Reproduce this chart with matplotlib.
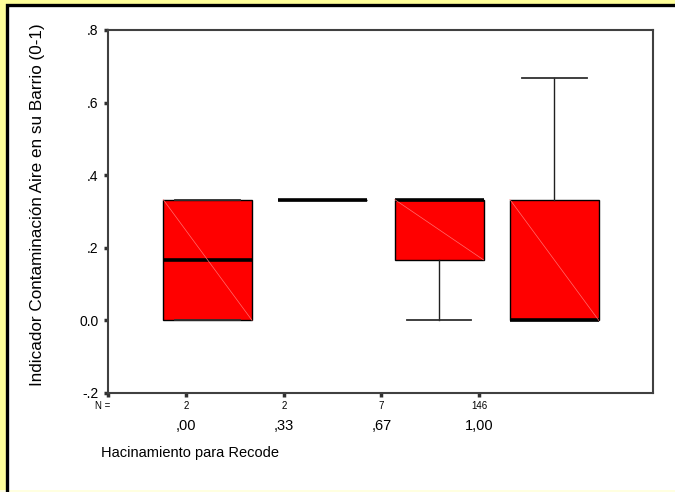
import matplotlib.pyplot as plt
from matplotlib.patches import Rectangle
from matplotlib.lines import Line2D
from matplotlib.transforms import blended_transform_factory

plt.rcParams['font.family'] = ['Liberation Sans', 'DejaVu Sans']

# categories and counts
categories = [',00', ',33', ',67', '1,00']
n_counts = ['2', '2', '7', '146']
tick_pos = [1, 2, 3, 4]
# SPSS puts the boxes a bit off the ticks
box_pos = [1.22, 2.40, 3.59, 4.77]

# box stats
q1 = [0.0, 0.333, 0.1667, 0.0]
med = [0.1667, 0.333, 0.333, 0.0]
q3 = [0.333, 0.333, 0.333, 0.333]
whis_lo = [0.0, 0.333, 0.0, 0.0]
whis_hi = [0.333, 0.333, 0.333, 0.6667]

yticks = [-0.2, 0.0, 0.2, 0.4, 0.6, 0.8]
ytick_labels = ['-.2', '0.0', '.2', '.4', '.6', '.8']

fig = plt.figure(figsize=(6.75, 4.92), dpi=100)
fig.patch.set_facecolor('#ffff99')
# white panel, frame only visible on top and left (picture is cut)
fig.add_artist(Rectangle((7 / 675, 2 / 492), 1.0, 485 / 492, transform=fig.transFigure,
                         facecolor='white', edgecolor='none', zorder=0))
fig.add_artist(Line2D([7 / 675, 7 / 675, 1.0], [2 / 492, 487 / 492, 487 / 492],
                      transform=fig.transFigure, color='black', linewidth=2.4,
                      solid_joinstyle='miter', zorder=1))
fig.add_artist(Rectangle((0, 0), 1.0, 2 / 492, transform=fig.transFigure,
                         facecolor='#ffffe0', edgecolor='none', zorder=0))

ax = fig.add_axes([108 / 675, 99 / 492, 545 / 675, 363 / 492])
ax.set_facecolor('white')

stats = []
for i in range(len(categories)):
    stats.append(dict(med=med[i], q1=q1[i], q3=q3[i], whislo=whis_lo[i],
                      whishi=whis_hi[i], fliers=[]))

ax.bxp(stats, positions=box_pos, widths=0.91, capwidths=0.66, patch_artist=True,
       showfliers=False,
       boxprops=dict(facecolor='#ff0000', edgecolor='black', linewidth=1.0),
       medianprops=dict(color='black', linewidth=2.6, solid_capstyle='butt'),
       whiskerprops=dict(color='#202020', linewidth=1.0),
       capprops=dict(color='#303030', linewidth=1.3))

# thin diagonal line SPSS draws inside each box
for i in range(len(categories)):
    if q3[i] > q1[i]:
        ax.plot([box_pos[i] - 0.455, box_pos[i] + 0.455], [q3[i], q1[i]],
                color='#ff7070', linewidth=0.5, zorder=3)

ax.set_xlim(0.2, 5.78)
ax.set_ylim(-0.2, 0.8)
ax.set_yticks(yticks)
ax.set_yticklabels(ytick_labels, fontsize=10)
ax.set_xticks([0.2] + tick_pos)
ax.set_xticklabels([''] * 5)
ax.tick_params(axis='both', direction='out', length=3, width=2.5, color='#303030', pad=4)
for s in ax.spines.values():
    s.set_color('#404040')
    s.set_linewidth(1.5)

trans = blended_transform_factory(ax.transData, ax.transAxes)
ax.text(-0.009, -0.037, 'N =', transform=ax.transAxes, ha='center', va='center', fontsize=7)
for i in range(len(categories)):
    ax.text(tick_pos[i], -0.037, n_counts[i], transform=trans, ha='center', va='center', fontsize=7)
    ax.text(tick_pos[i], -0.09, categories[i], transform=trans, ha='center', va='center', fontsize=10.5)

fig.text(101 / 675, 1 - 453 / 492, 'Hacinamiento para Recode', ha='left', va='center', fontsize=10.5)
fig.text(38 / 675, 1 - 205 / 492, 'Indicador Contaminación Aire en su Barrio (0-1)',
         rotation=90, ha='center', va='center', fontsize=12.3)

fig.savefig('out.png', dpi=100, facecolor=fig.get_facecolor())
